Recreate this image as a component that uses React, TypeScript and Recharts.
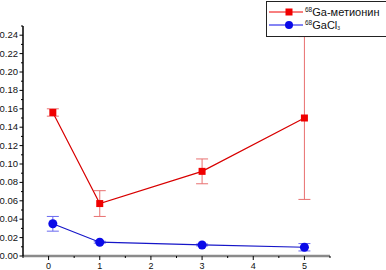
import { LineChart, Line, XAxis, YAxis, ErrorBar } from "recharts";

// time, h
const times = [0.083, 1, 3, 5];
// 68Ga-метионин
const metValues = [0.156, 0.057, 0.092, 0.15];
const metErrors = [0.004, 0.014, 0.0135, 0.0885];
// 68GaCl3
const gaclValues = [0.035, 0.015, 0.012, 0.0095];
const gaclErrors = [0.008, 0.001, 0.001, 0.004];

const yTicks = [
  0, 0.01, 0.02, 0.03, 0.04, 0.05, 0.06, 0.07, 0.08, 0.09, 0.1, 0.11, 0.12,
  0.13, 0.14, 0.15, 0.16, 0.17, 0.18, 0.19, 0.2, 0.21, 0.22, 0.23, 0.24, 0.25,
];
const xTicks = [-0.5, 0, 0.5, 1, 1.5, 2, 2.5, 3, 3.5, 4, 4.5, 5, 5.5];

const RED = "#f00000";
const BLUE = "#0a0ae8";
const FONT = "'Liberation Sans', Arial, sans-serif";

const data = times.map((t, i) => ({
  t,
  met: metValues[i],
  metErr: metErrors[i],
  gacl: gaclValues[i],
  gaclErr: gaclErrors[i],
}));

const YTick = (props: any) => {
  const { x, y, payload } = props;
  const v = payload.value as number;
  const hundredths = Math.round(v * 100);
  const major = hundredths % 2 === 0 && hundredths <= 24;
  return (
    <g>
      <line x1={x} x2={x - (major ? 3.5 : 2)} y1={y} y2={y} stroke="#000" strokeWidth={1} />
      {major && (
        <text x={x - 5} y={y + 3} textAnchor="end" fontSize={9.5} fontFamily={FONT} fill="#111">
          {v.toFixed(2)}
        </text>
      )}
    </g>
  );
};

const XTick = (props: any) => {
  const { x, y, payload } = props;
  const v = payload.value as number;
  const major = Number.isInteger(v) && v >= 0 && v <= 5;
  return (
    <g>
      <line x1={x} x2={x} y1={y} y2={y + (major ? 4 : 2)} stroke="#000" strokeWidth={1} />
      {major && (
        <text x={x} y={y + 13} textAnchor="middle" fontSize={9} fontFamily={FONT} fill="#111">
          {v}
        </text>
      )}
    </g>
  );
};

const SquareDot = (props: any) => {
  const { cx, cy, index } = props;
  return <rect key={`sq-${index}`} x={cx - 3.5} y={cy - 3.5} width={7} height={7} fill={RED} />;
};

const CircleDot = (props: any) => {
  const { cx, cy, index } = props;
  return <circle key={`ci-${index}`} cx={cx} cy={cy} r={4.5} fill={BLUE} />;
};

function LegendBox() {
  return (
    <svg
      width={120}
      height={38}
      style={{ position: "absolute", left: 266, top: 0, overflow: "visible" }}
    >
      <rect x={0.5} y={1.5} width={125} height={35} fill="#fff" stroke="#222" strokeWidth={1} />
      <line x1={3} x2={37} y1={12} y2={12} stroke={RED} strokeWidth={1} />
      <rect x={19.5} y={8.5} width={7} height={7} fill={RED} />
      <text x={39} y={16} fontFamily={FONT} fill="#111">
        <tspan fontSize={6.5} dy={-4}>68</tspan>
        <tspan fontSize={11} dy={4}>Ga-метионин</tspan>
      </text>
      <line x1={3} x2={37} y1={25} y2={25} stroke={BLUE} strokeWidth={1} />
      <circle cx={23} cy={25} r={4} fill={BLUE} />
      <text x={39} y={29} fontFamily={FONT} fill="#111">
        <tspan fontSize={6.5} dy={-4}>68</tspan>
        <tspan fontSize={11} dy={4}>GaCl</tspan>
        <tspan fontSize={5} dy={1}>3</tspan>
      </text>
    </svg>
  );
}

export default function App() {
  return (
    <div style={{ position: "absolute", left: 0, top: 0, width: 386, height: 270, background: "#fff" }}>
      <LineChart width={386} height={270} data={data} margin={{ top: 26, right: 56, bottom: 0, left: 0 }}>
        <XAxis
          dataKey="t"
          type="number"
          domain={[-0.5, 5.5]}
          ticks={xTicks}
          interval={0}
          height={14}
          tickSize={0}
          tickMargin={0}
          tick={<XTick />}
          axisLine={{ stroke: "#8a8a8a", strokeWidth: 2.5 }}
          tickLine={false}
        />
        <YAxis
          type="number"
          domain={[0, 0.25]}
          ticks={yTicks}
          interval={0}
          width={23}
          tickSize={0}
          tickMargin={0}
          tick={<YTick />}
          axisLine={{ stroke: "#000", strokeWidth: 1.5 }}
          tickLine={false}
          allowDataOverflow
        />
        <Line
          dataKey="met"
          stroke="#d80000"
          strokeWidth={1.2}
          dot={SquareDot}
          activeDot={false}
          isAnimationActive={false}
        >
          <ErrorBar dataKey="metErr" direction="y" width={6} stroke="#e87070" strokeWidth={1} isAnimationActive={false} />
        </Line>
        <Line
          dataKey="gacl"
          stroke="#1515c8"
          strokeWidth={1.2}
          dot={CircleDot}
          activeDot={false}
          isAnimationActive={false}
        >
          <ErrorBar dataKey="gaclErr" direction="y" width={6} stroke="#6a6af0" strokeWidth={1} isAnimationActive={false} />
        </Line>
      </LineChart>
      <LegendBox />
    </div>
  );
}
